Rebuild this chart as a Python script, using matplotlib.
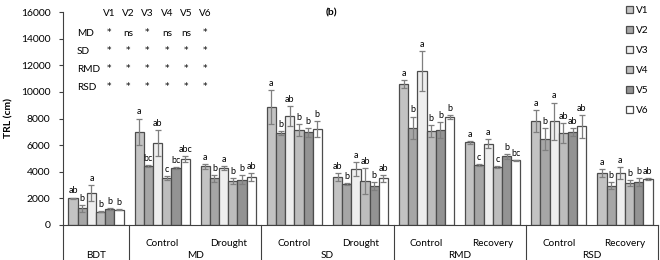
import matplotlib

matplotlib.use("Agg")
import matplotlib.pyplot as plt
import numpy as np
from matplotlib.patches import Patch

plt.rcParams["font.family"] = ["Lato", "DejaVu Sans"]

categories = ["BDT", "Control", "Drought", "Control", "Drought",
              "Control", "Recovery", "Control", "Recovery"]
groups = ["MD", "SD", "RMD", "RSD"]
varieties = ["V1", "V2", "V3", "V4", "V5", "V6"]

v1 = [2000, 7000, 4400, 8850, 3600, 10600, 6200, 7800, 3900]
v2 = [1250, 4400, 3500, 6900, 3100, 7300, 4500, 6450, 2950]
v3 = [2400, 6150, 4300, 8200, 4200, 11550, 6100, 7800, 3900]
v4 = [1000, 3550, 3300, 7100, 3300, 7050, 4350, 6900, 3150]
v5 = [1200, 4300, 3400, 6950, 2950, 7150, 5150, 6950, 3250]
v6 = [1150, 4950, 3600, 7200, 3500, 8100, 4850, 7400, 3450]

e1 = [60, 1000, 200, 1300, 300, 300, 80, 850, 300]
e2 = [250, 80, 250, 150, 80, 850, 60, 850, 250]
e3 = [600, 950, 150, 750, 500, 1500, 350, 1400, 450]
e4 = [40, 150, 250, 450, 1000, 450, 60, 750, 200]
e5 = [60, 60, 350, 350, 300, 600, 200, 300, 300]
e6 = [50, 200, 300, 600, 250, 150, 60, 850, 60]

l1 = ["ab", "a", "a", "a", "ab", "a", "a", "a", "a"]
l2 = ["b", "bc", "b", "b", "b", "b", "c", "b", "b"]
l3 = ["a", "ab", "a", "ab", "a", "a", "a", "a", "a"]
l4 = ["b", "c", "b", "b", "ab", "b", "c", "ab", "b"]
l5 = ["b", "bc", "b", "b", "b", "b", "b", "ab", "b"]
l6 = ["b", "abc", "ab", "b", "ab", "b", "bc", "ab", "ab"]

sig_rows = ["MD", "SD", "RMD", "RSD"]
sig_md = ["*", "ns", "*", "ns", "ns", "*"]
sig_sd = ["*", "*", "*", "*", "*", "*"]
sig_rmd = ["*", "*", "*", "*", "*", "*"]
sig_rsd = ["*", "*", "*", "*", "*", "*"]

values = [v1, v2, v3, v4, v5, v6]
errors = [e1, e2, e3, e4, e5, e6]
letters = [l1, l2, l3, l4, l5, l6]
sigs = [sig_md, sig_sd, sig_rmd, sig_rsd]
colors = ["#c3c3c3", "#a6a6a6", "#eeeeee", "#bdbdbd", "#939393", "#ffffff"]
EDGE = "#4d4d4d"

W, H = 660, 260
fig = plt.figure(figsize=(6.6, 2.6), dpi=100)
ax = fig.add_axes([63 / W, 35 / H, 595 / W, 213 / H])

x = np.arange(len(categories))
width = 0.139
for i in range(6):
    pos = x + (i - 2.5) * width
    ax.bar(pos, values[i], width, color=colors[i], edgecolor=EDGE,
           linewidth=0.9, zorder=2)
    ax.errorbar(pos, values[i], yerr=errors[i], fmt="none", ecolor="#7f7f7f",
                elinewidth=0.9, capsize=2.2, capthick=0.9, zorder=3)
    for xp, v, e, lab in zip(pos, values[i], errors[i], letters[i]):
        ax.annotate(lab, (xp, v + e), xytext=(0, 1.5), textcoords="offset points",
                    ha="center", va="bottom", fontsize=6.5)

ax.set_xlim(-0.5, 8.5)
ax.set_ylim(0, 16000)
ax.set_yticks(np.arange(0, 16001, 2000))
ax.tick_params(axis="y", direction="out", length=3, width=0.8, labelsize=7.5,
               color="#404040", pad=6)
ax.set_xticks([])
for side in ("top", "right"):
    ax.spines[side].set_visible(False)
ax.spines["left"].set_color("#404040")
ax.spines["bottom"].set_color("#404040")
ax.spines["left"].set_linewidth(0.8)
ax.spines["bottom"].set_linewidth(0.8)
ax.set_ylabel("TRL (cm)", fontsize=7.5, fontweight="bold", labelpad=5)

# category box below the axis
trans = ax.get_xaxis_transform()
bottom = -35 / 213
for xs in (-0.5, 0.5, 2.5, 4.5, 6.5, 8.5):
    ax.plot([xs, xs], [0, bottom], transform=trans, color="#404040",
            linewidth=0.8, clip_on=False)
for xi, lab in enumerate(categories):
    if xi == 0:
        continue
    ax.text(xi, -19 / 213, lab, transform=trans, ha="center", va="center",
            fontsize=7.2)
ax.text(0, -31 / 213, categories[0], transform=trans, ha="center",
        va="center", fontsize=7.2)
for gi, g in enumerate(groups):
    ax.text(1.5 + 2 * gi, -31 / 213, g, transform=trans, ha="center",
            va="center", fontsize=7.2)

fig.text(331 / W, 1 - 13 / H, "(b)", ha="center", va="center", fontsize=7.5,
         fontweight="bold")

# significance table
col_x = [109, 128, 147, 167, 186, 205]
row_y = [33, 51, 70, 88]
for cx, vname in zip(col_x, varieties):
    fig.text(cx / W, 1 - 14 / H, vname, ha="center", va="center", fontsize=7.2)
for ry, rname, srow in zip(row_y, sig_rows, sigs):
    fig.text(77 / W, 1 - ry / H, rname, ha="left", va="center", fontsize=7.2)
    for cx, s in zip(col_x, srow):
        if s == "*":
            fig.text(cx / W, 1 - (ry - 1) / H, s, ha="center", va="center",
                     fontsize=6.5, family="DejaVu Sans")
        else:
            fig.text(cx / W, 1 - ry / H, s, ha="center", va="center",
                     fontsize=7.2)

handles = [Patch(facecolor=c, edgecolor=EDGE, linewidth=0.9) for c in colors]
ax.legend(handles, varieties, loc="upper left",
          bbox_to_anchor=(622 / W, 1 - 2 / H), bbox_transform=fig.transFigure,
          frameon=False, fontsize=7.2, handlelength=0.7, handleheight=0.7,
          handletextpad=0.3, labelspacing=1.1, borderaxespad=0)

fig.savefig("out.png", dpi=100, facecolor="white")
